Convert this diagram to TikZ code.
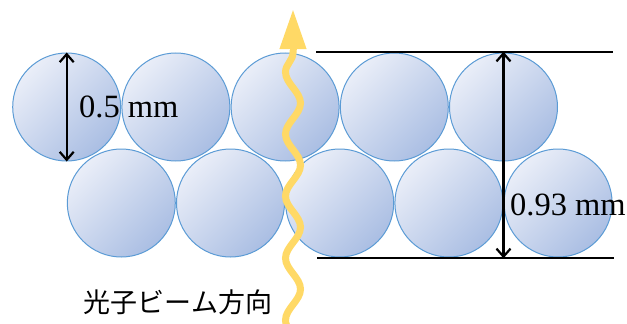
\documentclass[tikz,border=0pt]{standalone}
\usepackage{fontspec}
\setmainfont{Liberation Serif}
\newfontfamily\jpfont{Noto Sans CJK JP}
\usetikzlibrary{arrows.meta,decorations.pathmorphing}
\definecolor{ballline}{HTML}{5B9BD5}
\definecolor{balllight}{HTML}{EAEEF8}
\definecolor{balldark}{HTML}{AABEE3}
\definecolor{beamcol}{HTML}{FFD966}

\begin{document}
\begin{tikzpicture}[x=1pt,y=-1pt,
	ball/.style={circle,draw=ballline,line width=1pt,top color=balllight,bottom color=balldark,shading angle=45,minimum size=108pt,inner sep=0pt},
	dim/.style={{Straight Barb[length=8pt,width=14pt]}-{Straight Barb[length=8pt,width=14pt]},line width=2.2pt},
	lbl/.style={font=\fontsize{32.5}{32.5}\selectfont,inner sep=0pt}]
	\useasboundingbox (0,0) rectangle (627,324);
	% top row
	\foreach \i/\x in {1/66.7,2/175.9,3/285.1,4/394.3,5/503.5}
		\node[ball] (t\i) at (\x,107) {};
	% bottom row
	\foreach \i/\x in {1/121.3,2/230.5,3/339.7,4/448.9,5/558.1}
		\node[ball] (b\i) at (\x,203) {};
	% thickness lines
	\coordinate (topL) at (316,51.7);
	\coordinate (topR) at (613,51.7);
	\coordinate (botL) at (317,258.3);
	\coordinate (botR) at (614,258.3);
	\draw[line width=2.2pt] (topL) -- (topR);
	\draw[line width=2.2pt] (botL) -- (botR);
	\draw[dim] (t5 |- topL) -- (t5 |- botL);
	\node[lbl,anchor=west] (thick) at (510,205) {0.93 mm};
	% diameter
	\draw[dim] (t1.north) -- (t1.south);
	\node[lbl,anchor=west] (diam) at (79,107) {0.5 mm};
	% photon beam
	\coordinate (bs) at (293,339.5);
	\coordinate (be) at (293,50);
	\coordinate (tip) at (293,9);
	\draw[beamcol,line width=7pt,decorate,decoration={snake,amplitude=7.5pt,segment length=62pt}] (bs) -- (be);
	\draw[beamcol,line width=7pt,-{Triangle[length=40pt,width=25pt]}] (be) -- (tip);
	\node[font=\jpfont\fontsize{27}{27}\selectfont,inner sep=0pt] (beam) at (178,302) {光子ビーム方向};
\end{tikzpicture}
\end{document}
